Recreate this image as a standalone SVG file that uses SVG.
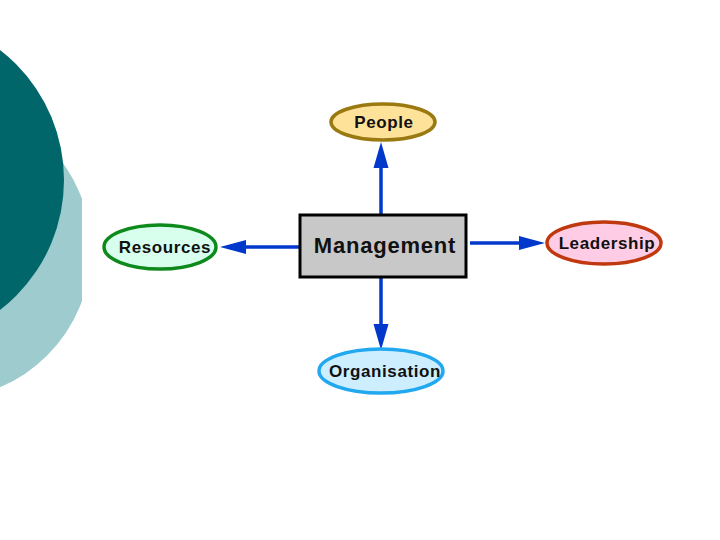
<svg xmlns="http://www.w3.org/2000/svg" width="720" height="540" viewBox="0 0 720 540">
<defs>
<clipPath id="clipL"><rect x="0" y="0" width="82" height="540"/></clipPath>
</defs>
<style>
.lbl{font-family:"Liberation Sans",Arial,sans-serif;font-weight:bold;font-size:17px;letter-spacing:0.6px;fill:#111;text-anchor:middle}
.conn{stroke:#0038CC;stroke-width:3.5;fill:none}
.head{fill:#0038CC}
</style>
<rect width="720" height="540" fill="#fff"/>
<g id="background">
<circle cx="-58" cy="250" r="149" fill="#9DCBCE" clip-path="url(#clipL)"/>
<circle cx="-100" cy="180" r="164" fill="#00666A"/>
</g>
<g id="connectors">
<line class="conn" x1="381" y1="214" x2="381" y2="160"/>
<path class="head" d="M381,142 L373.5,168 L388.5,168 Z"/>
<line class="conn" x1="299" y1="247" x2="238" y2="247"/>
<path class="head" d="M220,247 L246,240 L246,254 Z"/>
<line class="conn" x1="470" y1="243" x2="527" y2="243"/>
<path class="head" d="M545,243 L519,236 L519,250 Z"/>
<line class="conn" x1="381" y1="277" x2="381" y2="332"/>
<path class="head" d="M381,350 L373.5,324 L388.5,324 Z"/>
</g>
<g id="management">
<rect x="300" y="215" width="166" height="62" fill="#C8C8C8" stroke="#000" stroke-width="3"/>
<text x="385" y="253" class="lbl" style="font-size:22px;letter-spacing:0.8px">Management</text>
</g>
<g id="people">
<ellipse cx="383" cy="122" rx="52" ry="18" fill="#FFE29A" stroke="#9A7A10" stroke-width="3.5"/>
<text x="384" y="128" class="lbl">People</text>
</g>
<g id="resources">
<ellipse cx="160" cy="247" rx="56" ry="22" fill="#D8FFEE" stroke="#0E8A1C" stroke-width="3.5"/>
<text x="165" y="253" class="lbl">Resources</text>
</g>
<g id="leadership">
<ellipse cx="604" cy="243" rx="57" ry="21" fill="#FFCCE6" stroke="#C0380E" stroke-width="3.5"/>
<text x="607" y="249" class="lbl">Leadership</text>
</g>
<g id="organisation">
<ellipse cx="381" cy="371" rx="62" ry="22" fill="#CCEEFF" stroke="#22A8EE" stroke-width="3.5"/>
<text x="385" y="377" class="lbl">Organisation</text>
</g>
</svg>
